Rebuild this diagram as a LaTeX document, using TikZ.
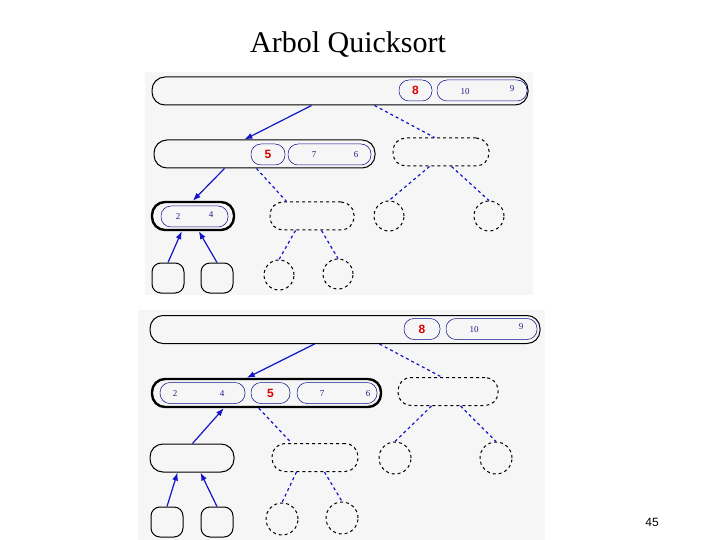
\documentclass[tikz,border=0pt]{standalone}
\usepackage{fontspec}
\setmainfont{Liberation Serif}
\newfontfamily\sansf{Liberation Sans}
\usetikzlibrary{arrows.meta}
\definecolor{arr}{RGB}{20,20,200}
\definecolor{num}{RGB}{30,30,140}
\definecolor{bg}{RGB}{246,246,246}
\tikzset{
 bar/.style={draw=black,line width=1pt,rounded corners=13pt,inner sep=0pt,minimum height=28pt},
 thick bar/.style={bar,line width=2.4pt},
 dbox/.style={bar,dashed,line width=1pt},
 pill/.style={draw=arr!70!black,line width=0.5pt,rounded corners=10pt,inner sep=0pt,minimum height=21pt},
 dcirc/.style={draw,dashed,circle,line width=1pt,minimum size=30pt,inner sep=0pt},
 sq/.style={draw,line width=1pt,rounded corners=9pt,minimum width=32pt,minimum height=30pt,inner sep=0pt},
 ar/.style={draw=arr,line width=1.2pt,-{Latex[length=8pt,width=6pt]}},
 dl/.style={draw=arr,line width=1.2pt,dashed},
 n/.style={text=num,font=\small},
 piv/.style={text=red!85!black,font=\sansf\bfseries\large},
}
\begin{document}
\begin{tikzpicture}[x=1pt,y=-1pt]
\useasboundingbox (0,0) rectangle (720,540);
\node[font=\fontsize{30}{34}\selectfont] (title) at (348,45) {Arbol Quicksort};
\node[font=\sansf\fontsize{12}{14}\selectfont] (pg) at (652,522) {45};
% ---------- top panel
\fill[bg] (145,72) rectangle (533,295);
\node[bar,minimum width=376pt] (a) at (340,91) {};
\node[pill,minimum width=33pt] (a8) at (415.5,90.5) {}; \node[piv] at (a8) {8};
\node[pill,minimum width=90pt] (a10) at (482,90.5) {};
\node[n] at (465,92) {10}; \node[n] at (512,89) {9};
\node[bar,minimum width=221pt] (b) at (264.5,154) {};
\node[pill,minimum width=34pt] (b5) at (268,154.5) {}; \node[piv] at (b5) {5};
\node[pill,minimum width=83pt] (b7) at (329.5,154.5) {};
\node[n] at (314,155) {7}; \node[n] at (356,155) {6};
\node[dbox,minimum width=96pt] (c) at (441,152) {};
\node[thick bar,minimum width=82pt] (d) at (193,216) {};
\node[pill,minimum width=67pt] (d2) at (194.5,216.5) {};
\node[n] at (178,217) {2}; \node[n] at (211,215) {4};
\node[dbox,minimum width=84pt] (e) at (312,216) {};
\node[dcirc] (f) at (389,216) {};
\node[dcirc] (g) at (489,216) {};
\node[sq] (h) at (168,278) {};
\node[sq] (i) at (217,278) {};
\node[dcirc] (j) at (279,275) {};
\node[dcirc] (k) at (338,274) {};
\draw[ar] ([xshift=160pt]a.south west) -- ([xshift=91pt]b.north west);
\draw[dl] ([xshift=223pt]a.south west) -- ([xshift=42pt]c.north west);
\draw[ar] ([xshift=71pt]b.south west) -- ([xshift=42pt]d.north west);
\draw[dl] ([xshift=103pt]b.south west) -- ([xshift=17pt]e.north west);
\draw[dl] ([xshift=37pt]c.south west) -- (f.north);
\draw[dl] ([xshift=59pt]c.south west) -- (g.north);
\draw[dl] ([xshift=26pt]e.south west) -- (j.north);
\draw[dl] ([xshift=52pt]e.south west) -- (k.north);
\draw[ar] (h.north) -- ([xshift=31pt]d.south west);
\draw[ar] (i.north) -- ([xshift=48pt]d.south west);
% ---------- bottom panel
\fill[bg] (138,310) rectangle (545,540);
\node[bar,minimum width=390pt] (A) at (345,329.5) {};
\node[pill,minimum width=36pt] (A8) at (422,329) {}; \node[piv] at (A8) {8};
\node[pill,minimum width=91pt] (A10) at (491.5,329) {};
\node[n] at (474,330) {10}; \node[n] at (521,327) {9};
\node[thick bar,minimum width=229pt] (B) at (266.5,393) {};
\node[pill,minimum width=85pt] (B2) at (202.5,393) {};
\node[n] at (175,394) {2}; \node[n] at (222,394) {4};
\node[pill,minimum width=39pt] (B5) at (270.5,393) {}; \node[piv] at (B5) {5};
\node[pill,minimum width=80pt] (B7) at (337,393) {};
\node[n] at (322,394) {7}; \node[n] at (368,394) {6};
\node[dbox,minimum width=100pt] (C) at (448,391.5) {};
\node[bar,minimum width=84pt] (D) at (192,458) {};
\node[dbox,minimum width=86pt] (E) at (315,457.5) {};
\node[dcirc,minimum size=32pt] (F) at (395,458) {};
\node[dcirc,minimum size=32pt] (G) at (496,458) {};
\node[sq] (H) at (167,522) {};
\node[sq] (I) at (217,522) {};
\node[dcirc,minimum size=32pt] (J) at (282,519) {};
\node[dcirc,minimum size=32pt] (K) at (342,518) {};
\draw[ar] ([xshift=165pt]A.south west) -- ([xshift=96pt]B.north west);
\draw[dl] ([xshift=230pt]A.south west) -- ([xshift=44pt]C.north west);
\draw[ar] ([xshift=43pt]D.north west) -- ([xshift=73pt]B.south west);
\draw[dl] ([xshift=108pt]B.south west) -- ([xshift=20pt]E.north west);
\draw[dl] ([xshift=34pt]C.south west) -- (F.north);
\draw[dl] ([xshift=63pt]C.south west) -- (G.north);
\draw[dl] ([xshift=25pt]E.south west) -- (J.north);
\draw[dl] ([xshift=53pt]E.south west) -- (K.north);
\draw[ar] (H.north) -- ([xshift=28pt]D.south west);
\draw[ar] (I.north) -- ([xshift=51pt]D.south west);
\end{tikzpicture}
\end{document}
